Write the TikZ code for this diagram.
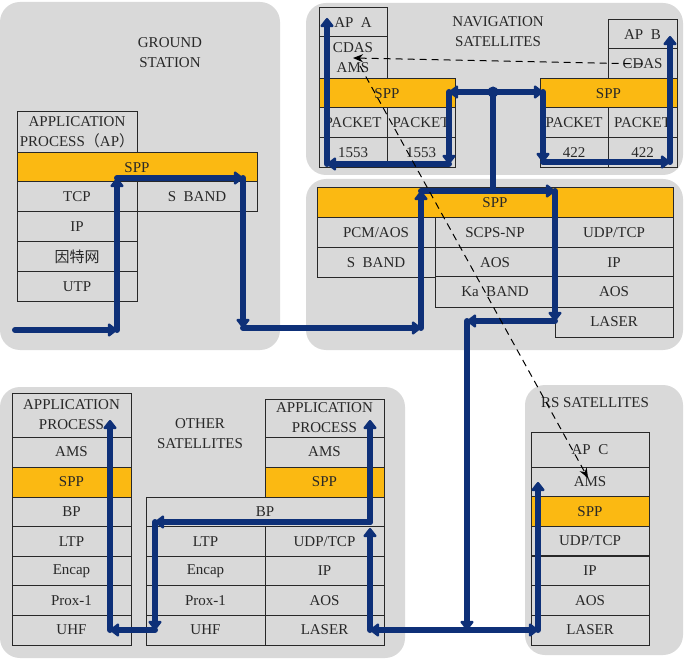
\documentclass[tikz,border=0pt]{standalone}
\usepackage{fontspec}
\setmainfont{Liberation Serif}
\newfontfamily\cjk{Noto Sans CJK SC}
\usetikzlibrary{arrows.meta}

\definecolor{panelgray}{RGB}{217,217,217}
\definecolor{sppgold}{RGB}{251,185,18}
\definecolor{flowblue}{RGB}{14,48,120}
\definecolor{inkgray}{RGB}{40,40,40}

\tikzset{
  panel/.style={fill=panelgray, rounded corners=20pt},
  layer/.style={draw=inkgray, line width=1pt, fill=panelgray, text=inkgray,
    inner sep=0pt, align=center, font=\fontsize{15}{20}\selectfont},
  spp/.style={layer, fill=sppgold},
  cell/.style 2 args={minimum width=#1pt, minimum height=#2pt},
  title/.style={text=inkgray, align=center, font=\fontsize{15}{20}\selectfont},
  flow/.style={draw=flowblue, line width=6pt, line cap=round, line join=round,
    -{Triangle[length=10pt,width=15pt,round]}},
  link/.style={draw=black, line width=1pt, dash pattern=on 7pt off 5pt,
    -{Stealth[length=10pt,width=8pt]}},
}

\begin{document}
\begin{tikzpicture}[x=1pt,y=-1pt]
\useasboundingbox (0,0) rectangle (685,660);

% panels
\fill[panel] (0,2) rectangle (280,350);
\fill[panel] (306,3) rectangle (683,175);
\fill[panel] (306,179) rectangle (683,350);
\fill[panel] (0,387) rectangle (405,658);
\fill[panel] (525,385) rectangle (683,655);

\node[title] (gTitle) at (170,53) {GROUND\\STATION};
\node[title] (nTitle) at (498,32) {NAVIGATION\\SATELLITES};
\node[title] (oTitle) at (200,434) {OTHER\\SATELLITES};
\node[title] (rTitle) at (595,403) {RS SATELLITES};

% ground station
\node[layer,cell={120}{41}] (gAP) at (77,132.5) {APPLICATION\\PROCESS{\cjk （}AP{\cjk ）}};
\node[spp,cell={240}{29}] (gSPP) at (137,167.5) {SPP};
\node[layer,cell={120}{30}] (gTCP) at (77,197) {TCP};
\node[layer,cell={120}{30}] (gSBand) at (197,197) {S\enspace BAND};
\node[layer,cell={120}{30}] (gIP) at (77,227) {IP};
\node[layer,cell={120}{30}] (gNet) at (77,257) {\cjk 因特网};
\node[layer,cell={120}{29}] (gUTP) at (77,286.5) {UTP};

% navigation satellites, upper
\node[layer,cell={68}{29}] (aAP) at (353,22.5) {AP\enspace A};
\node[layer,cell={68}{42}] (aCDAS) at (353,58) {CDAS\\AMS};
\node[spp,cell={136}{29}] (aSPP) at (387,93.5) {SPP};
\node[layer,cell={68}{30}] (aPk1) at (353,123) {PACKET};
\node[layer,cell={68}{30}] (aPk2) at (421,123) {PACKET};
\node[layer,cell={68}{30}] (aBus1) at (353,153) {1553};
\node[layer,cell={68}{30}] (aBus2) at (421,153) {1553};

\node[layer,cell={69}{29}] (bAP) at (642.5,34.5) {AP\enspace B};
\node[layer,cell={69}{30}] (bCDAS) at (642.5,64) {CDAS};
\node[spp,cell={137}{29}] (bSPP) at (608.5,93.5) {SPP};
\node[layer,cell={68}{30}] (bPk1) at (574,123) {PACKET};
\node[layer,cell={69}{30}] (bPk2) at (642.5,123) {PACKET};
\node[layer,cell={68}{30}] (bBus1) at (574,153) {422};
\node[layer,cell={69}{30}] (bBus2) at (642.5,153) {422};

% navigation satellites, lower
\node[spp,cell={356}{30}] (nSPP) at (495,203) {SPP};
\node[layer,cell={118}{30}] (nPCM) at (376,233) {PCM/AOS};
\node[layer,cell={118}{29.5}] (nSBand) at (376,262.5) {S\enspace BAND};
\node[layer,cell={120}{30}] (nSCPS) at (495,233) {SCPS-NP};
\node[layer,cell={120}{29.5}] (nAOS) at (495,262.5) {AOS};
\node[layer,cell={120}{30}] (nKa) at (495,292) {Ka\enspace BAND};
\node[layer,cell={118}{30}] (nUDP) at (614,233) {UDP/TCP};
\node[layer,cell={118}{29.5}] (nIP) at (614,262.5) {IP};
\node[layer,cell={118}{30}] (nAOSb) at (614,292) {AOS};
\node[layer,cell={118}{30}] (nLaser) at (614,322) {LASER};

% other satellites
\node[layer,cell={119}{44}] (oAP) at (71.5,415) {APPLICATION\\PROCESS};
\node[layer,cell={119}{30}] (oAMS) at (71.5,452) {AMS};
\node[spp,cell={119}{30}] (oSPP) at (71.5,482) {SPP};
\node[layer,cell={119}{30}] (oBP) at (71.5,512) {BP};
\node[layer,cell={119}{29.5}] (oLTP) at (71.5,541.5) {LTP};
\node[layer,cell={119}{30}] (oEncap) at (71.5,571) {Encap};
\node[layer,cell={119}{29.5}] (oProx) at (71.5,600.5) {Prox-1};
\node[layer,cell={119}{30}] (oUHF) at (71.5,630) {UHF};

\node[layer,cell={119}{38}] (pAP) at (324.5,418) {APPLICATION\\PROCESS};
\node[layer,cell={119}{30}] (pAMS) at (324.5,452) {AMS};
\node[spp,cell={119}{30}] (pSPP) at (324.5,482) {SPP};
\node[layer,cell={238}{30}] (pBP) at (265,512) {BP};
\node[layer,cell={119}{29.5}] (pLTP) at (205.5,541.5) {LTP};
\node[layer,cell={119}{29.5}] (pUDP) at (324.5,541.5) {UDP/TCP};
\node[layer,cell={119}{30}] (pEncap) at (205.5,571) {Encap};
\node[layer,cell={119}{30}] (pIP) at (324.5,571) {IP};
\node[layer,cell={119}{29.5}] (pProx) at (205.5,600.5) {Prox-1};
\node[layer,cell={119}{29.5}] (pAOS) at (324.5,600.5) {AOS};
\node[layer,cell={119}{30}] (pUHF) at (205.5,630) {UHF};
\node[layer,cell={119}{30}] (pLaser) at (324.5,630) {LASER};

% rs satellites
\node[layer,cell={118}{35}] (rAP) at (590,449.5) {AP\enspace C};
\node[layer,cell={118}{30}] (rAMS) at (590,482) {AMS};
\node[spp,cell={118}{29.5}] (rSPP) at (590,511.5) {SPP};
\node[layer,cell={118}{29.5}] (rUDP) at (590,541) {UDP/TCP};
\node[layer,cell={118}{30}] (rIP) at (590,571) {IP};
\node[layer,cell={118}{29.5}] (rAOS) at (590,600.5) {AOS};
\node[layer,cell={118}{30}] (rLaser) at (590,630) {LASER};

% route corners
\coordinate (g0) at (15,330);
\coordinate (g1) at (117,330);
\coordinate (g2) at (117,178);
\coordinate (g3) at (243,178);
\coordinate (g4) at (243,328);
\coordinate (n1) at (421,328);
\coordinate (n2) at (421,191);
\coordinate (n3) at (555,191);
\coordinate (n4) at (555,321);
\coordinate (n5) at (467,321);
\coordinate (stem) at (493,191);
\coordinate (j) at (493,92);
\coordinate (u1) at (449,92);
\coordinate (u2) at (449,164);
\coordinate (u3) at (327,164);
\coordinate (u4) at (327,18);
\coordinate (v1) at (543,92);
\coordinate (v2) at (543,162);
\coordinate (v3) at (670,162);
\coordinate (v4) at (670,36);
\coordinate (b1) at (467,630);
\coordinate (r1) at (538,630);
\coordinate (r2) at (538,482);
\coordinate (o1) at (370,630);
\coordinate (o2a) at (370,528);
\coordinate (o2) at (370,522);
\coordinate (o3) at (370,420);
\coordinate (o4) at (155,522);
\coordinate (o5) at (155,630);
\coordinate (o6) at (110,630);
\coordinate (o7) at (110,420);
\coordinate (amsA) at (360,66);

% data route
\draw[flow] (g0) -- (g1);
\draw[flow] (g1) -- (g2);
\draw[flow] (g2) -- (g3);
\draw[flow] (g3) -- (g4);
\draw[flow] (g4) -- (n1);
\draw[flow] (n1) -- (n2);
\draw[flow] (n2) -- (n3);
\draw[flow,-] (j) -- (stem);
\draw[flow] (n3) -- (n4);
\draw[flow] (n4) -- (n5);
\draw[flow] (n5) -- (b1);
\draw[flow] (j) -- (u1);
\draw[flow] (u1) -- (u2);
\draw[flow] (u2) -- (u3);
\draw[flow] (u3) -- (u4);
\draw[flow] (j) -- (v1);
\draw[flow] (v1) -- (v2);
\draw[flow] (v2) -- (v3);
\draw[flow] (v3) -- (v4);
\fill[flowblue] (j) circle (5.5pt);
\draw[flow] (b1) -- (r1);
\draw[flow] (r1) -- (r2);
\draw[flow] (b1) -- (o1);
\draw[flow] (o1) -- (o2a);
\draw[flow] (o2) -- (o3);
\draw[flow] (o2) -- (o4);
\draw[flow] (o4) -- (o5);
\draw[flow] (o5) -- (o6);
\draw[flow] (o6) -- (o7);

% dashed links
\draw[link] (bCDAS.center) -- (aCDAS.center);
\draw[link] (amsA) -- ([shift={(-2,-4)}]rAMS.center);
\end{tikzpicture}
\end{document}
